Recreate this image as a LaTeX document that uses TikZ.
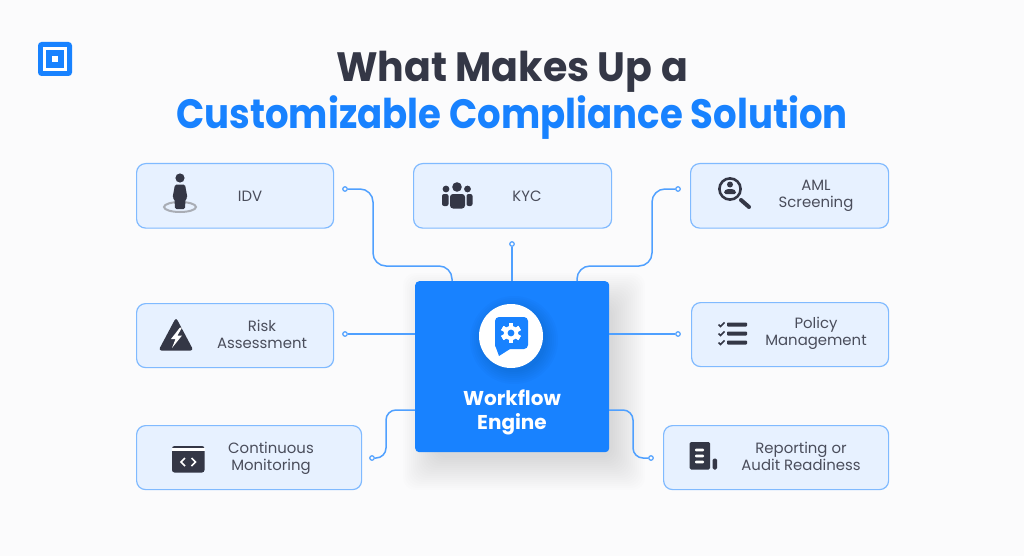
\documentclass[tikz,border=0pt]{standalone}
\usepackage{fontspec}
\setmainfont{Poppins}
\usetikzlibrary{calc}
\definecolor{bgc}{HTML}{FBFBFC}
\definecolor{brand}{HTML}{1882FF}
\definecolor{linec}{HTML}{4FA0FF}
\definecolor{edgec}{HTML}{80BAFF}
\definecolor{fillc}{HTML}{E7F1FF}
\definecolor{ink}{HTML}{343746}
\definecolor{txt}{HTML}{4A4D5B}
\definecolor{ringc}{HTML}{A9ADB5}
\newcommand{\softshadow}[5]{% x0,y0,x1,y1,color
  \foreach \g in {24,22,...,-8}{\fill[#5,opacity=0.0085,rounded corners=12pt] (#1-\g,#2-\g) rectangle (#3+\g,#4+\g);}}
\tikzset{
  x=1pt,y=-1pt,
  box/.style={draw=edgec,line width=1.2pt,fill=fillc,rounded corners=9pt,inner sep=0pt,anchor=north west},
  label/.style={text=txt,font=\fontsize{14.9}{17}\selectfont,align=center,inner sep=0pt},
  conn/.style={draw=linec,line width=1.5pt,rounded corners=13pt},
  term/.style={circle,draw=linec,fill=bgc,line width=1.2pt,minimum size=4.5pt,inner sep=0pt},
  titletext/.style={inner sep=0pt,anchor=base,font=\fontsize{41}{50}\selectfont\bfseries},
}
\begin{document}
\begin{tikzpicture}
\useasboundingbox (0,0) rectangle (1024,556);
\fill[bgc] (0,0) rectangle (1024,556);
% logo
\fill[brand,rounded corners=3.5pt] (38,42) rectangle (72,76);
\draw[white,line width=2.2pt] (44.5,48.5) rectangle (65.5,69.5);
\fill[white] (52,56) rectangle (58,62);
% title
\node[titletext,text=ink] (t1) at (512,82) {\scalebox{0.964}[1]{What Makes Up a}};
\node[titletext,text=brand] (t2) at (512,128.5) {\scalebox{0.904}[1]{Customizable Compliance Solution}};
% boxes
\node[box,minimum width=197pt,minimum height=64.5pt] (idv) at (136,163) {};
\node[box,minimum width=198pt,minimum height=64.5pt] (kyc) at (413,163) {};
\node[box,minimum width=198pt,minimum height=64.5pt] (aml) at (690,163) {};
\node[box,minimum width=197pt,minimum height=64pt] (risk) at (136,303) {};
\node[box,minimum width=197pt,minimum height=64pt] (pol) at (691,302) {};
\node[box,minimum width=225pt,minimum height=64pt] (cont) at (136,425) {};
\node[box,minimum width=225pt,minimum height=64pt] (rep) at (663,425) {};
% shadow + centre
\softshadow{427}{297}{621}{466}{black}
\node[draw=none,fill=brand,rounded corners=4pt,minimum width=194pt,minimum height=171pt,inner sep=0pt,anchor=north west] (eng) at (415,281) {};
% terminals
\node[term] (a1) at (345,189) {};
\node[term] (a2) at (512,244) {};
\node[term] (a3) at (678,189) {};
\node[term] (a4) at (345,334) {};
\node[term] (a5) at (678,334) {};
\node[term] (a6) at (372,458) {};
\node[term] (a7) at (651,458) {};
% connectors
\draw[conn] (a1.east) -- (373,189) -- (373,266) -- (452,266) -- (452,281);
\draw[conn] (a2.south) -- (a2 |- eng.north);
\draw[conn] (a3.west) -- (652,189) -- (652,266) -- (577,266) -- (577,281);
\draw[conn] (a4.east) -- (a4 -| eng.west);
\draw[conn] (a5.west) -- (a5 -| eng.east);
\draw[conn,rounded corners=10pt] (a6.east) -- (386,458) -- (386,410) -- (415,410);
\draw[conn,rounded corners=10pt] (a7.west) -- (633,458) -- (633,410) -- (609,410);
% labels
\node[label] (lidv) at (250,196) {IDV};
\node[label] (lkyc) at (527,196) {KYC};
\node[label] (laml) at (816,195.5) {AML\\Screening};
\node[label] (lrisk) at (262,334.5) {Risk\\Assessment};
\node[label] (lcont) at (271,458) {Continuous\\Monitoring};
\node[label] (lpol) at (816,333) {Policy\\Management};
\node[label] (lrep) at (801,456.5) {Reporting or\\Audit Readiness};
% centre icon
\foreach \g in {12,10,...,0}{\fill[black,opacity=0.014] (514,340) circle (32+\g);}
\fill[white] (511,336) circle (32);
\fill[brand,rounded corners=4pt] (495,317) rectangle (528,349);
\fill[brand] (495,345) -- (499,356) -- (510,349) -- cycle;
\fill[white] (511,333) circle (7.2);
\foreach \a in {0,60,...,300}{\fill[white,rotate around={\a:(511,333)}] (508.6,323) rectangle (513.4,343);}
\fill[brand] (511,333) circle (3.4);
\node[inner sep=0pt,text=white,font=\fontsize{20}{24}\selectfont\bfseries,align=center] (leng) at (512,412) {Workflow\\Engine};
% IDV icon
\draw[ringc,line width=2pt] (180,207) ellipse (16 and 5);
\fill[ink] (180,178) circle (4.6);
\fill[ink,rounded corners=1.5pt] (175,184.5) -- (185,184.5) -- (187.5,198) -- (185.5,199) -- (185,209) -- (175,209) -- (174.5,199) -- (172.5,198) -- cycle;
% KYC icon
\fill[ink] (457,187) circle (4.8);
\fill[ink] (446,189) circle (3.4);
\fill[ink] (467.5,189) circle (3.4);
\fill[ink,rounded corners=3pt] (450,208.5) -- (450,194) -- (465,194) -- (465,208.5) -- cycle;
\fill[ink,rounded corners=2pt] (442,206) -- (442,194) -- (448.5,194) -- (448.5,206) -- cycle;
\fill[ink,rounded corners=2pt] (472.5,206) -- (472.5,194) -- (466.5,194) -- (466.5,206) -- cycle;
% AML icon
\draw[ink,line width=2.6pt] (730,189) circle (10.6);
\draw[ink,line width=4pt,line cap=round] (741,200) -- (749,207);
\fill[ink] (730,184.5) circle (3);
\fill[ink,rounded corners=1.5pt] (724,194) -- (724,191) -- (727,189) -- (733,189) -- (736,191) -- (736,194) -- cycle;
% Risk icon
\fill[ink,rounded corners=3pt] (176,317.5) -- (193.5,350.5) -- (158.5,350.5) -- cycle;
\fill[white] (180,327.5) -- (171,339) -- (175.5,339) -- (172,348) -- (182,335.5) -- (177.5,335.5) -- (182,327.5) -- cycle;
% Continuous icon
\fill[ink,rounded corners=2.5pt] (172,446) rectangle (204.5,472.5);
\fill[white] (172,447.5) rectangle (204.5,451);
\draw[white,line width=1.5pt] (185,458) -- (181,462) -- (185,466);
\draw[white,line width=1.5pt] (191.5,458) -- (195.5,462) -- (191.5,466);
% Policy icon
\foreach \y in {324.5,333.5,342.5}{
  \draw[ink,line width=1.6pt] (718.5,\y) -- (720.5,\y+2) -- (724.5,\y-2);
  \fill[ink,rounded corners=0.8pt] (727,\y-2) rectangle (747,\y+2);
}
% Reporting icon
\fill[ink,rounded corners=1.5pt] (689.5,442) rectangle (710,469.5);
\fill[ink,rounded corners=1.5pt] (712.5,458.5) rectangle (717,469.5);
\foreach \y in {450,456,462}{\fill[white,rounded corners=1pt] (695,\y-1.4) rectangle (704,\y+1.4);}
\end{tikzpicture}
\end{document}
